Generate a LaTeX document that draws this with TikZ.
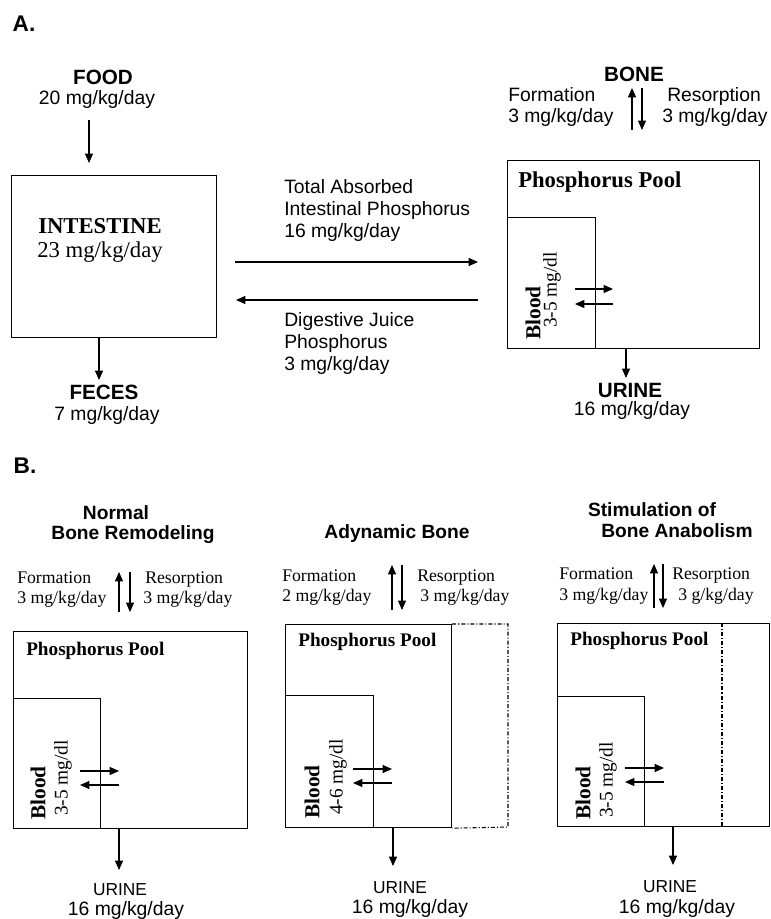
\documentclass[tikz,border=0pt]{standalone}
\usepackage{fontspec}
\setmainfont{Liberation Serif}
\setsansfont{Liberation Sans}
\usetikzlibrary{arrows.meta}

\tikzset{
  box/.style={draw, line width=0.9pt, inner sep=0pt, anchor=north west},
  arr/.style={line width=0.8pt, -{Triangle[length=7pt,width=6pt]}},
  dashdot/.style={line width=0.8pt, dash pattern=on 3pt off 1.5pt on 0.8pt off 1.5pt},
  oneline/.style={text height=0.9em, text depth=0.2em},
  paneltag/.style={font=\fontsize{17}{20}\selectfont\sffamily\bfseries},
  bigcap/.style={font=\fontsize{15.5}{18}\selectfont\sffamily\bfseries},
  flowtxt/.style={font=\fontsize{14.5}{16.5}\selectfont\sffamily, align=left, inner xsep=0pt},
  organ/.style={font=\fontsize{17}{20}\selectfont\rmfamily},
  poolA/.style={font=\fontsize{17}{20}\selectfont\rmfamily\bfseries, anchor=west, inner xsep=0pt},
  poolB/.style={font=\fontsize{14.4}{17}\selectfont\rmfamily\bfseries, anchor=west, inner xsep=0pt},
  bloodtxt/.style={font=\fontsize{16}{18}\selectfont\rmfamily\bfseries, rotate=90},
  conc/.style={font=\fontsize{14.5}{17}\selectfont\rmfamily, rotate=90},
  casehd/.style={font=\fontsize{14.4}{16.5}\selectfont\sffamily\bfseries},
  ratetxt/.style={font=\fontsize{13.3}{15}\selectfont\rmfamily, anchor=west, inner xsep=0pt, oneline},
  urinesm/.style={font=\fontsize{13}{15}\selectfont\sffamily},
  urineval/.style={font=\fontsize{14.5}{17}\selectfont\sffamily},
}

\begin{document}
\begin{tikzpicture}[x=0.75pt,y=0.75pt,yscale=-1,xscale=1]
\useasboundingbox (0,0) rectangle (770,919);

%%%%%%%%%%%%%%%%%%%% Panel A
\node[paneltag] (tagA) at (24,24) {A.};

% Food -> intestine -> feces
\node[bigcap] (food) at (103,77) {FOOD};
\node[flowtxt] (foodval) at (97,100) {20 mg/kg/day};
\node[box, minimum width=153.75pt, minimum height=121.5pt] (intestine) at (11,175) {};
\node[organ, font=\fontsize{17}{20}\selectfont\rmfamily\bfseries] (intname) at (100,226) {INTESTINE};
\node[organ] (intval) at (100,252) {23 mg/kg/day};
\coordinate (foodtop) at (89,120);
\coordinate (foodtip) at (89,163);
\draw[arr] (foodtop) -- (foodtip);
\coordinate (fecestip) at (99,380);
\draw[arr] (intestine.south -| fecestip) -- (fecestip);
\node[bigcap] (feces) at (104,392) {FECES};
\node[flowtxt] (fecesval) at (107,415) {7 mg/kg/day};

% Exchange intestine <-> pool
\coordinate (absL) at (235,262);
\coordinate (absR) at (478,262);
\coordinate (digR) at (478,300);
\coordinate (digL) at (236,300);
\draw[arr] (absL) -- (absR);
\draw[arr] (digR) -- (digL);
\node[flowtxt, anchor=west] (abstxt) at (284,211) {Total Absorbed\\Intestinal Phosphorus\\16 mg/kg/day};
\node[flowtxt, anchor=west] (digtxt) at (284,344) {Digestive Juice\\Phosphorus\\3 mg/kg/day};

% Phosphorus pool
\node[box, minimum width=189pt, minimum height=141pt] (poolA) at (507,160) {};
\node[box, minimum width=66pt, minimum height=98.25pt] (bloodA) at (507,217) {};
\node[poolA] (poolAname) at (518,182) {Phosphorus Pool};
\node[bloodtxt] (bloodAname) at (533,313) {Blood};
\node[conc] (bloodAval) at (552,290) {3-5 mg/dl};
\coordinate (xA1) at (575,289);
\coordinate (xA2) at (613,289);
\coordinate (xA3) at (613,304);
\coordinate (xA4) at (575,304);
\draw[arr] (xA1) -- (xA2);
\draw[arr] (xA3) -- (xA4);

% Bone
\node[bigcap] (boneA) at (634,74) {BONE};
\node[flowtxt, anchor=west, oneline] (formA) at (508,97) {Formation};
\node[flowtxt, anchor=west, oneline] (formAval) at (508,118) {3 mg/kg/day};
\node[flowtxt, anchor=west, oneline] (resA) at (667,97) {Resorption};
\node[flowtxt, anchor=west, oneline] (resAval) at (662,118) {3 mg/kg/day};
\coordinate (upA0) at (632,130);
\coordinate (upA1) at (632,88);
\coordinate (dnA0) at (642,88);
\coordinate (dnA1) at (642,130);
\draw[arr] (upA0) -- (upA1);
\draw[arr] (dnA0) -- (dnA1);

% Urine
\coordinate (urAtip) at (626,378);
\draw[arr] (poolA.south -| urAtip) -- (urAtip);
\node[bigcap] (urineA) at (630,390) {URINE};
\node[flowtxt] (urineAval) at (632,411) {16 mg/kg/day};

%%%%%%%%%%%%%%%%%%%% Panel B
\node[paneltag] (tagB) at (25,466) {B.};

%% Normal bone remodeling
\node[casehd] (hdB1a) at (116,513) {Normal};
\node[casehd] (hdB1b) at (133,535) {Bone Remodeling};
\node[ratetxt] (formB1) at (17,579) {Formation};
\node[ratetxt] (formB1val) at (17,599) {3 mg/kg/day};
\node[ratetxt] (resB1) at (145,579) {Resorption};
\node[ratetxt] (resB1val) at (143,599) {3 mg/kg/day};
\coordinate (upB10) at (119,612);
\coordinate (upB11) at (119,572);
\coordinate (dnB10) at (130,572);
\coordinate (dnB11) at (130,612);
\draw[arr] (upB10) -- (upB11);
\draw[arr] (dnB10) -- (dnB11);
\node[box, minimum width=175.5pt, minimum height=147.75pt] (poolB1) at (13,631) {};
\node[box, minimum width=65.25pt, minimum height=97.5pt] (bloodB1) at (13,698) {};
\node[poolB] (poolB1name) at (26,651) {Phosphorus Pool};
\node[bloodtxt] (bloodB1name) at (38,793) {Blood};
\node[conc] (bloodB1val) at (63,778) {3-5 mg/dl};
\coordinate (xB11) at (80,771);
\coordinate (xB12) at (119,771);
\coordinate (xB13) at (119,785);
\coordinate (xB14) at (80,785);
\draw[arr] (xB11) -- (xB12);
\draw[arr] (xB13) -- (xB14);
\coordinate (urB1tip) at (119,870);
\draw[arr] (poolB1.south -| urB1tip) -- (urB1tip);
\node[urinesm] (urineB1) at (120,890) {URINE};
\node[urineval] (urineB1val) at (126,910) {16 mg/kg/day};

%% Adynamic bone
\node[casehd] (hdB2) at (397,534) {Adynamic Bone};
\node[ratetxt] (formB2) at (282,577) {Formation};
\node[ratetxt] (formB2val) at (282,597) {2 mg/kg/day};
\node[ratetxt] (resB2) at (417,577) {Resorption};
\node[ratetxt] (resB2val) at (420,597) {3 mg/kg/day};
\coordinate (upB20) at (392,610);
\coordinate (upB21) at (392,565);
\coordinate (dnB20) at (402,565);
\coordinate (dnB21) at (402,610);
\draw[arr] (upB20) -- (upB21);
\draw[arr] (dnB20) -- (dnB21);
\node[box, minimum width=124.5pt, minimum height=152.25pt] (poolB2) at (285,624) {};
\draw[dashdot] (poolB2.north east) -- (508,624) -- (508,827) -- (poolB2.south east);
\node[box, minimum width=66pt, minimum height=99pt] (bloodB2) at (285,695) {};
\node[poolB] (poolB2name) at (298,642) {Phosphorus Pool};
\node[bloodtxt] (bloodB2name) at (312,792) {Blood};
\node[conc] (bloodB2val) at (338,777) {4-6 mg/dl};
\coordinate (xB21) at (353,769);
\coordinate (xB22) at (392,769);
\coordinate (xB23) at (392,783);
\coordinate (xB24) at (353,783);
\draw[arr] (xB21) -- (xB22);
\draw[arr] (xB23) -- (xB24);
\coordinate (urB2tip) at (393,866);
\draw[arr] (poolB2.south -| urB2tip) -- (urB2tip);
\node[urinesm] (urineB2) at (400,888) {URINE};
\node[urineval] (urineB2val) at (410,908) {16 mg/kg/day};

%% Stimulation of bone anabolism
\node[casehd] (hdB3a) at (652,510) {Stimulation of};
\node[casehd] (hdB3b) at (677,531) {Bone Anabolism};
\node[ratetxt] (formB3) at (559,575) {Formation};
\node[ratetxt] (formB3val) at (559,596) {3 mg/kg/day};
\node[ratetxt] (resB3) at (672,575) {Resorption};
\node[ratetxt] (resB3val) at (678,596) {3 g/kg/day};
\coordinate (upB30) at (654,608);
\coordinate (upB31) at (654,564);
\coordinate (dnB30) at (663,564);
\coordinate (dnB31) at (663,608);
\draw[arr] (upB30) -- (upB31);
\draw[arr] (dnB30) -- (dnB31);
\node[box, minimum width=159pt, minimum height=152.25pt] (poolB3) at (557,623) {};
\draw[dashdot] (722,623) -- (722,826);
\node[box, minimum width=65.25pt, minimum height=97.5pt] (bloodB3) at (557,696) {};
\node[poolB] (poolB3name) at (570,641) {Phosphorus Pool};
\node[bloodtxt] (bloodB3name) at (583,793) {Blood};
\node[conc] (bloodB3val) at (608,780) {3-5 mg/dl};
\coordinate (xB31) at (625,768);
\coordinate (xB32) at (664,768);
\coordinate (xB33) at (664,782);
\coordinate (xB34) at (625,782);
\draw[arr] (xB31) -- (xB32);
\draw[arr] (xB33) -- (xB34);
\coordinate (urB3tip) at (673,865);
\draw[arr] (poolB3.south -| urB3tip) -- (urB3tip);
\node[urinesm] (urineB3) at (670,887) {URINE};
\node[urineval] (urineB3val) at (677,908) {16 mg/kg/day};

\end{tikzpicture}
\end{document}
